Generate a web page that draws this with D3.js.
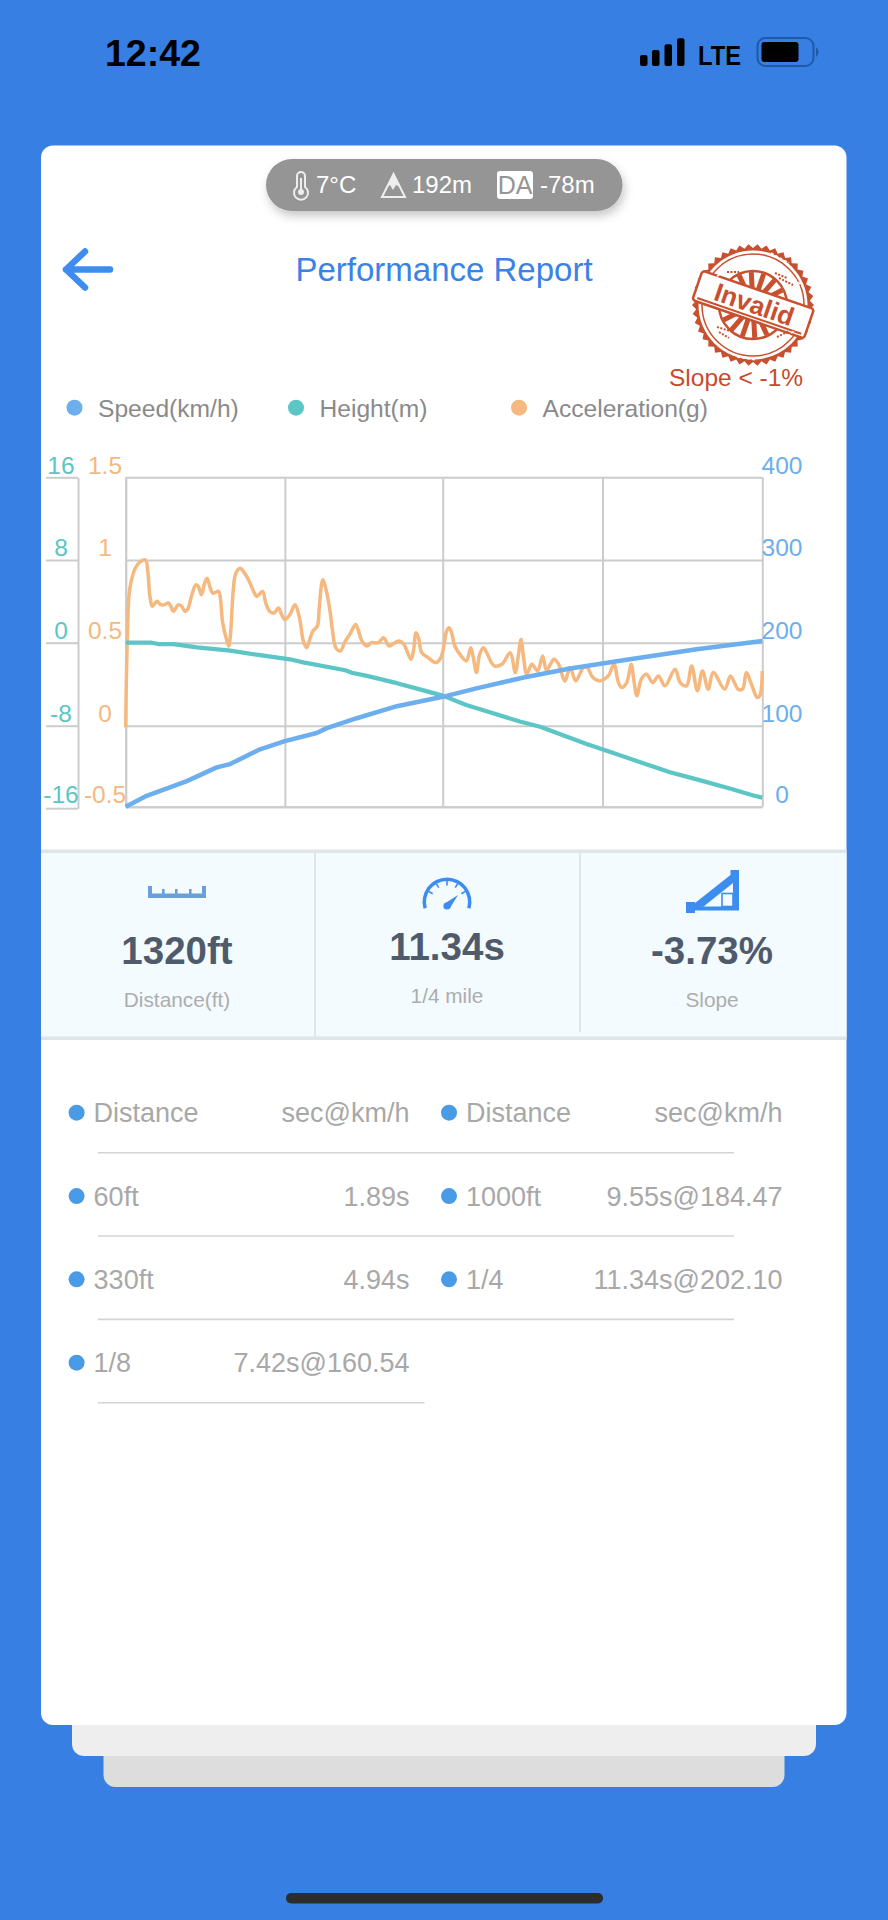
<!DOCTYPE html>
<html>
<head>
<meta charset="utf-8">
<script src="https://cdn.jsdelivr.net/npm/d3@7"></script>
<style>
    html, body { margin: 0; padding: 0; background: #377fe2; }
    svg { display: block; font-family: "Liberation Sans", Arial, sans-serif; }
    .grid line, .grid path { stroke: #cccccc; stroke-width: 2; fill: none; }
</style>
</head>
<body>
<div id="report"></div>
<script>
////////////////////////////////////////////////////////////////////////////////
// Data
////////////////////////////////////////////////////////////////////////////////

// x is percent of the run
var speed = [[0,0],[3.3,13.4],[9.6,31.6],[14.3,48.6],[16.4,52.6],[21.1,70.9],[25,81],[30,91],[31.6,97],[36.3,109],
    [42.6,123.5],[49.8,134.8],[55.1,145],[62.5,158],[69.8,169],[79.2,180],[89.7,192],[100,202.1]];

var height = [[0,0],[4.1,0],[5.1,-0.13],[7.5,-0.13],[11.2,-0.45],[16.4,-0.77],[21.1,-1.2],[25.8,-1.6],[27.9,-1.9],
    [34.5,-2.65],[35.5,-2.9],[37.9,-3.2],[42.6,-3.9],[46.2,-4.5],[49.8,-5.1],[53.5,-6],[57.2,-6.7],[61.9,-7.6],
    [65.1,-8.1],[72.4,-9.8],[76.6,-10.7],[81.3,-11.7],[85.5,-12.6],[89.7,-13.3],[94.9,-14.2],[98.6,-14.9],[100,-15.1]];

var accel = [[0,-0.01],[0.1,0.27],[0.3,0.59],[0.5,0.78],[0.8,0.86],[1.5,0.95],[2.3,0.99],[3.1,1],[3.5,0.92],[3.8,0.78],
    [4.2,0.72],[4.9,0.75],[5.5,0.73],[6.1,0.73],[6.7,0.74],[7.1,0.72],[7.5,0.69],[8.3,0.73],[8.8,0.72],[9.3,0.69],
    [9.7,0.7],[10.4,0.79],[11,0.85],[11.4,0.84],[11.9,0.79],[12.4,0.86],[12.8,0.89],[13.2,0.84],[13.7,0.8],[14.6,0.81],
    [14.9,0.76],[15.2,0.63],[15.9,0.51],[16.2,0.48],[16.5,0.57],[16.9,0.82],[17.3,0.92],[18,0.95],[18.5,0.93],[19.3,0.88],
    [20.1,0.81],[20.6,0.78],[21.5,0.81],[22,0.74],[22.6,0.69],[23.3,0.68],[24,0.71],[24.5,0.67],[25,0.64],[25.8,0.67],
    [26.6,0.73],[27.3,0.65],[27.9,0.51],[28.4,0.47],[29,0.53],[29.4,0.57],[30.1,0.6],[30.4,0.71],[30.8,0.86],[31,0.88],
    [31.6,0.8],[32.1,0.69],[32.5,0.57],[33,0.47],[33.7,0.45],[34.5,0.51],[35.2,0.55],[36.1,0.61],[36.5,0.58],[37.1,0.51],
    [37.9,0.48],[38.6,0.5],[39.7,0.5],[40.5,0.53],[41.4,0.48],[42.3,0.5],[43,0.51],[43.7,0.49],[44.8,0.4],[45.2,0.45],
    [45.6,0.56],[46,0.53],[46.5,0.44],[47.5,0.41],[48.7,0.38],[49.5,0.41],[50.2,0.53],[50.4,0.57],[50.8,0.59],[51.2,0.56],
    [51.7,0.48],[52.5,0.43],[53.5,0.39],[54.2,0.47],[54.6,0.41],[55.1,0.32],[55.6,0.43],[56.2,0.47],[56.7,0.44],[57.9,0.36],
    [59.1,0.37],[60.4,0.44],[61.2,0.32],[61.7,0.43],[62.1,0.52],[62.5,0.41],[63,0.31],[63.8,0.37],[64.7,0.33],[65.5,0.42],
    [66.1,0.33],[66.7,0.37],[67.3,0.4],[68,0.37],[69,0.27],[69.8,0.35],[70.7,0.27],[71.9,0.35],[72.5,0.35],[73.4,0.29],
    [74.5,0.27],[75.8,0.3],[76.7,0.37],[77.4,0.26],[77.9,0.23],[78.7,0.26],[79.4,0.37],[79.8,0.28],[80.3,0.18],[81,0.28],
    [81.8,0.31],[82.8,0.26],[83.7,0.3],[84.7,0.24],[86.3,0.34],[87.1,0.26],[88.1,0.24],[88.9,0.36],[89.8,0.21],[90.6,0.33],
    [91.5,0.22],[92.3,0.32],[94.1,0.22],[95,0.3],[96.2,0.22],[96.9,0.22],[97.5,0.32],[98.3,0.25],[99.2,0.17],[99.6,0.18],[100,0.33]];

var splits = [
    { col: 0, row: 0, name: 'Distance', value: 'sec@km/h' },
    { col: 0, row: 1, name: '60ft', value: '1.89s' },
    { col: 0, row: 2, name: '330ft', value: '4.94s' },
    { col: 0, row: 3, name: '1/8', value: '7.42s@160.54' },
    { col: 1, row: 0, name: 'Distance', value: 'sec@km/h' },
    { col: 1, row: 1, name: '1000ft', value: '9.55s@184.47' },
    { col: 1, row: 2, name: '1/4', value: '11.34s@202.10' }
];

var blue = '#6caeee', teal = '#5cc5c5', orange = '#f5b87f';

var svg = d3.select('#report').append('svg').attr('width', 888).attr('height', 1920);

function text(parent, x, y, str, size, color, anchor, weight) {
    return parent.append('text').attr('x', x).attr('y', y).text(str)
        .attr('font-size', size).attr('fill', color)
        .attr('text-anchor', anchor || 'start').attr('font-weight', weight || 'normal');
}

////////////////////////////////////////////////////////////////////////////////
// Background, status bar
////////////////////////////////////////////////////////////////////////////////

svg.append('rect').attr('width', 888).attr('height', 1920).attr('fill', '#377fe2');

text(svg, 105, 66, '12:42', 37.5, '#000', 'start', 'bold');
[[640, 55], [652, 50], [664.5, 44.3], [677, 38.3]].forEach(function (b) {
    svg.append('rect').attr('x', b[0]).attr('y', b[1]).attr('width', 7.5).attr('height', 66 - b[1]).attr('rx', 2).attr('fill', '#000');
});
text(svg, 698, 64.5, 'LTE', 28, '#000', 'start', 'bold').attr('textLength', 43).attr('lengthAdjust', 'spacingAndGlyphs');
svg.append('rect').attr('x', 757.5).attr('y', 38).attr('width', 56).attr('height', 28).attr('rx', 8)
    .attr('fill', 'none').attr('stroke', '#1f5aa6').attr('stroke-width', 2);
svg.append('rect').attr('x', 761.5).attr('y', 42).attr('width', 37).attr('height', 20).attr('rx', 3).attr('fill', '#000');
svg.append('path').attr('d', 'M816,47 Q821,52 816,57 Z').attr('fill', '#1f5aa6');

svg.append('rect').attr('x', 286).attr('y', 1893).attr('width', 317).attr('height', 10.5).attr('rx', 5).attr('fill', '#2d2d2d');

// stacked cards
svg.append('rect').attr('x', 103.5).attr('y', 1700).attr('width', 681).attr('height', 87).attr('rx', 12).attr('fill', '#dddddd');
svg.append('rect').attr('x', 72).attr('y', 1680).attr('width', 744).attr('height', 76).attr('rx', 12).attr('fill', '#eeeeee');
svg.append('rect').attr('x', 41).attr('y', 145.5).attr('width', 805.5).attr('height', 1579.5).attr('rx', 12).attr('fill', '#fff');

////////////////////////////////////////////////////////////////////////////////
// Header
////////////////////////////////////////////////////////////////////////////////

var blur = svg.append('defs').append('filter').attr('id', 'pillShadow')
    .attr('x', '-10%').attr('y', '-30%').attr('width', '120%').attr('height', '170%');
blur.append('feDropShadow').attr('dx', 2).attr('dy', 5).attr('stdDeviation', 5).attr('flood-color', '#000').attr('flood-opacity', 0.22);

svg.append('rect').attr('x', 266).attr('y', 159).attr('width', 356.5).attr('height', 52).attr('rx', 26)
    .attr('fill', '#959595').attr('filter', 'url(#pillShadow)');

// thermometer
svg.append('path').attr('d', 'M297,176 a4,4 0 0 1 8,0 v11 a7,7 0 1 1 -8,0 Z')
    .attr('fill', 'none').attr('stroke', '#eeeeee').attr('stroke-width', 2);
svg.append('circle').attr('cx', 301).attr('cy', 192).attr('r', 3).attr('fill', '#eeeeee');
svg.append('rect').attr('x', 300).attr('y', 178).attr('width', 2).attr('height', 12).attr('fill', '#eeeeee');
text(svg, 316, 193, '7°C', 24, '#fff');

// mountain
svg.append('path').attr('d', 'M393.5,174 L405,197 L382,197 Z').attr('fill', 'none').attr('stroke', '#eeeeee').attr('stroke-width', 2);
svg.append('path').attr('d', 'M393.5,174 L400,187 L396,185 L393,190 L390,185 L387,187 Z').attr('fill', '#eeeeee');
text(svg, 412, 193, '192m', 24, '#fff');

// DA badge
svg.append('rect').attr('x', 497).attr('y', 171).attr('width', 36).attr('height', 28).attr('rx', 3).attr('fill', '#fff');
text(svg, 515, 193.5, 'DA', 25, '#959595', 'middle');
text(svg, 540, 193, '-78m', 24, '#fff');

// back arrow
svg.append('path').attr('d', 'M85,251.5 L66,269.5 L85,287.5 M66,269.5 L110,269.5')
    .attr('fill', 'none').attr('stroke', '#3f8cf0').attr('stroke-width', 6.5).attr('stroke-linecap', 'round').attr('stroke-linejoin', 'round');

text(svg, 444, 281, 'Performance Report', 33, '#3a82e6', 'middle');

////////////////////////////////////////////////////////////////////////////////
// Stamp
////////////////////////////////////////////////////////////////////////////////

var red = '#c8502f';
var stamp = svg.append('g').attr('transform', 'translate(753,305)');
var teeth = d3.range(84).map(function (i) {
    var r = i % 2 ? 57 : 61, a = i / 84 * 2 * Math.PI;
    return [r * Math.cos(a), r * Math.sin(a)];
});
stamp.append('path').attr('d', d3.line().curve(d3.curveLinearClosed)(teeth)).attr('fill', red);
stamp.append('circle').attr('r', 54.5).attr('fill', '#fff');
stamp.append('circle').attr('r', 51).attr('fill', 'none').attr('stroke', red).attr('stroke-width', 1.5);
stamp.append('circle').attr('r', 34).attr('fill', 'none').attr('stroke', red).attr('stroke-width', 2.5);

var band = stamp.append('g').attr('transform', 'rotate(19)');
d3.range(-2, 3).forEach(function (i) {
    var a = (i * 22 - 90) * Math.PI / 180;
    band.append('line').attr('x1', 14 * Math.cos(a)).attr('y1', 14 * Math.sin(a)).attr('x2', 33 * Math.cos(a)).attr('y2', 33 * Math.sin(a))
        .attr('stroke', red).attr('stroke-width', 5);
    band.append('line').attr('x1', 14 * Math.cos(a)).attr('y1', -14 * Math.sin(a)).attr('x2', 33 * Math.cos(a)).attr('y2', -33 * Math.sin(a))
        .attr('stroke', red).attr('stroke-width', 5);
});
band.append('rect').attr('x', -59).attr('y', -16).attr('width', 118).attr('height', 31).attr('rx', 3)
    .attr('fill', '#fff').attr('stroke', red).attr('stroke-width', 2.5);
band.append('line').attr('x1', -55).attr('x2', 55).attr('y1', 11.5).attr('y2', 11.5).attr('stroke', red).attr('stroke-width', 2);
text(band, 1, 8, 'Invalid', 26, red, 'middle', 'bold');

// worn ink
[[-45, -24, -30, -32], [-46, 20, -32, 28], [38, -30, 50, -18], [30, 34, 44, 24], [18, -52, 36, -42], [-16, 52, 4, 55]].forEach(function (s) {
    stamp.append('line').attr('x1', s[0]).attr('y1', s[1]).attr('x2', s[2]).attr('y2', s[3])
        .attr('stroke', '#fff').attr('stroke-width', 1.5).attr('stroke-dasharray', '3 2');
});
[[-36, 22, -20, 27], [-34, 27, -24, 33], [26, -27, 40, -20], [22, -32, 34, -27], [-26, -33, -14, -33], [24, 32, 36, 26]].forEach(function (s) {
    stamp.append('line').attr('x1', s[0]).attr('y1', s[1]).attr('x2', s[2]).attr('y2', s[3])
        .attr('stroke', red).attr('stroke-width', 2).attr('stroke-dasharray', '2 1.5');
});

text(svg, 669, 386, 'Slope < -1%', 24.5, '#c8492c');

////////////////////////////////////////////////////////////////////////////////
// Legend
////////////////////////////////////////////////////////////////////////////////

[{ x: 74.5, c: blue, t: 'Speed(km/h)' }, { x: 296, c: teal, t: 'Height(m)' }, { x: 519, c: orange, t: 'Acceleration(g)' }].forEach(function (d) {
    svg.append('circle').attr('cx', d.x).attr('cy', 407.7).attr('r', 8).attr('fill', d.c);
    text(svg, d.x + 23.5, 417, d.t, 24.6, '#8a8a8a');
});

////////////////////////////////////////////////////////////////////////////////
// Chart
////////////////////////////////////////////////////////////////////////////////

var top_ = 477.3, bottom = 806.7;
var levels = [bottom, 725.7, 642.7, 560, top_];

var x = d3.scaleLinear().domain([0, 100]).range([125.7, 762.3]);
var ySpeed = d3.scaleLinear().domain([0, 100, 200, 300, 400]).range(levels);
var yHeight = d3.scaleLinear().domain([-16, -8, 0, 8, 16]).range(levels);
var yAccel = d3.scaleLinear().domain([-0.5, 0, 0.5, 1, 1.5]).range(levels);

var chart = svg.append('g');

// grid
chart.append('g').attr('class', 'grid')
    .attr('transform', 'translate(0,' + bottom + ')')
    .call(d3.axisBottom(x).tickValues([0, 25, 49.8, 74.9, 100]).tickSize(top_ - bottom).tickSizeOuter(0).tickFormat(''));
chart.append('g').attr('class', 'grid')
    .attr('transform', 'translate(' + x(0) + ',0)')
    .call(d3.axisRight(ySpeed).tickValues(ySpeed.domain()).tickSize(x(100) - x(0)).tickSizeOuter(0).tickFormat(''));

// height axis hangs off to the left of the plot
var heightAxisScale = yHeight.copy().range([bottom + 1.5, 725.7, 642.7, 560, top_]);
chart.append('g').attr('class', 'grid')
    .attr('transform', 'translate(78,0)')
    .call(d3.axisLeft(heightAxisScale).tickValues(yHeight.domain()).tickSize(32).tickSizeOuter(0).tickFormat(''));

// axis labels sit centered on their column, just above the tick
function labels(values, scale, cx, color) {
    chart.selectAll(null).data(values).enter().append('text')
        .attr('x', cx)
        .attr('y', function (d) { return scale(d) - 3.8; })
        .attr('text-anchor', 'middle').attr('font-size', 24.5).attr('fill', color)
        .text(function (d) { return d; });
}
labels([400, 300, 200, 100, 0], ySpeed, 782, blue);
labels([16, 8, 0, -8, -16], yHeight, 61, teal);
labels([1.5, 1, 0.5, 0, -0.5], yAccel, 105, orange);

var lineAccel = d3.line().curve(d3.curveCatmullRom).x(function (d) { return x(d[0]); }).y(function (d) { return yAccel(d[1]); });
var lineSpeed = d3.line().x(function (d) { return x(d[0]); }).y(function (d) { return ySpeed(d[1]); });
var lineHeight = d3.line().x(function (d) { return x(d[0]); }).y(function (d) { return yHeight(d[1]); });

chart.append('path').datum(accel).attr('d', lineAccel).attr('fill', 'none').attr('stroke', orange).attr('stroke-width', 3.5);
chart.append('path').datum(height).attr('d', lineHeight).attr('fill', 'none').attr('stroke', teal).attr('stroke-width', 4.2).attr('stroke-linejoin', 'round');
chart.append('path').datum(speed).attr('d', lineSpeed).attr('fill', 'none').attr('stroke', blue).attr('stroke-width', 4.5).attr('stroke-linejoin', 'round');

////////////////////////////////////////////////////////////////////////////////
// Summary panel
////////////////////////////////////////////////////////////////////////////////

svg.append('rect').attr('x', 41).attr('y', 852).attr('width', 805.5).attr('height', 186).attr('fill', '#f3fbfe');
svg.append('rect').attr('x', 41).attr('y', 849.5).attr('width', 805.5).attr('height', 3.5).attr('fill', '#dfe6e8');
svg.append('rect').attr('x', 41).attr('y', 1036.5).attr('width', 805.5).attr('height', 3.5).attr('fill', '#dfe6e8');
svg.append('rect').attr('x', 314).attr('y', 853).attr('width', 2).attr('height', 184).attr('fill', '#dfe6e8');
svg.append('rect').attr('x', 579).attr('y', 853).attr('width', 2).attr('height', 179).attr('fill', '#dfe6e8');

[
    { cx: 177, vy: 963.5, ly: 1007, v: '1320ft', l: 'Distance(ft)' },
    { cx: 447, vy: 959.5, ly: 1003, v: '11.34s', l: '1/4 mile' },
    { cx: 712, vy: 964, ly: 1007, v: '-3.73%', l: 'Slope' }
].forEach(function (d) {
    text(svg, d.cx, d.vy, d.v, 38.5, '#4f5b6b', 'middle', 'bold');
    text(svg, d.cx, d.ly, d.l, 20.8, '#adadad', 'middle');
});

// ruler icon
var rulerColor = '#6a9fdc';
svg.append('rect').attr('x', 148).attr('y', 893.5).attr('width', 58).attr('height', 4.5).attr('fill', rulerColor);
[[148, 886, 4], [162, 889, 2.6], [175, 889, 2.6], [189, 889, 2.6], [202, 886, 4]].forEach(function (t) {
    svg.append('rect').attr('x', t[0]).attr('y', t[1]).attr('width', t[2]).attr('height', 895 - t[1]).attr('fill', rulerColor);
});

// gauge icon
var gaugeColor = '#3d8df0';
var gauge = svg.append('g').attr('transform', 'translate(447,902)');
gauge.append('path').attr('d', d3.arc().innerRadius(21).outerRadius(24.5).startAngle(-Math.PI / 2 - 0.28).endAngle(Math.PI / 2 + 0.28)())
    .attr('fill', gaugeColor);
d3.range(-60, 61, 30).forEach(function (deg) {
    gauge.append('line').attr('y1', -21).attr('y2', -16.5).attr('transform', 'rotate(' + deg + ')')
        .attr('stroke', gaugeColor).attr('stroke-width', 1.6);
});
gauge.append('path').attr('d', 'M-3,2 L11,-7 L3,6 Z').attr('fill', gaugeColor);
gauge.append('circle').attr('cy', 4).attr('r', 3.6).attr('fill', gaugeColor);

// slope icon
var slopeColor = '#3d8df0';
svg.append('path').attr('d', 'M690,907 L733,873 L733,883 L703,907 Z').attr('fill', slopeColor);
svg.append('rect').attr('x', 690).attr('y', 906.5).attr('width', 49).attr('height', 4).attr('fill', slopeColor);
svg.append('rect').attr('x', 733).attr('y', 870).attr('width', 6).attr('height', 40).attr('fill', slopeColor);
svg.append('rect').attr('x', 730.5).attr('y', 870).attr('width', 8.5).attr('height', 12).attr('fill', slopeColor);
svg.append('rect').attr('x', 686).attr('y', 902).attr('width', 9).attr('height', 11).attr('fill', slopeColor);
svg.append('rect').attr('x', 722).attr('y', 893.5).attr('width', 11).attr('height', 13).attr('fill', 'none').attr('stroke', slopeColor).attr('stroke-width', 1.6);

////////////////////////////////////////////////////////////////////////////////
// Split table
////////////////////////////////////////////////////////////////////////////////

var colX = d3.scaleOrdinal().domain([0, 1]).range([76.6, 449]);
var colRight = d3.scaleOrdinal().domain([0, 1]).range([409.5, 782.5]);
var rowY = d3.scaleLinear().domain([0, 3]).range([1112.7, 1362.7]);

var rows = svg.append('g').selectAll('g').data(splits).enter().append('g');
rows.append('circle').attr('cx', function (d) { return colX(d.col); }).attr('cy', function (d) { return rowY(d.row); })
    .attr('r', 8).attr('fill', '#4a9be6');
rows.append('text').attr('x', function (d) { return colX(d.col) + 17; }).attr('y', function (d) { return rowY(d.row) + 9.5; })
    .attr('font-size', 27).attr('fill', '#a8a8a8').text(function (d) { return d.name; });
rows.append('text').attr('x', function (d) { return colRight(d.col); }).attr('y', function (d) { return rowY(d.row) + 9.5; })
    .attr('font-size', 27).attr('fill', '#a8a8a8').attr('text-anchor', 'end').text(function (d) { return d.value; });

[[0, 734], [1, 734], [2, 734], [3, 424.5]].forEach(function (r) {
    svg.append('line').attr('x1', 97.7).attr('x2', r[1]).attr('y1', rowY(r[0]) + 40).attr('y2', rowY(r[0]) + 40)
        .attr('stroke', '#d4d4d4').attr('stroke-width', 1.6);
});
</script>
</body>
</html>
